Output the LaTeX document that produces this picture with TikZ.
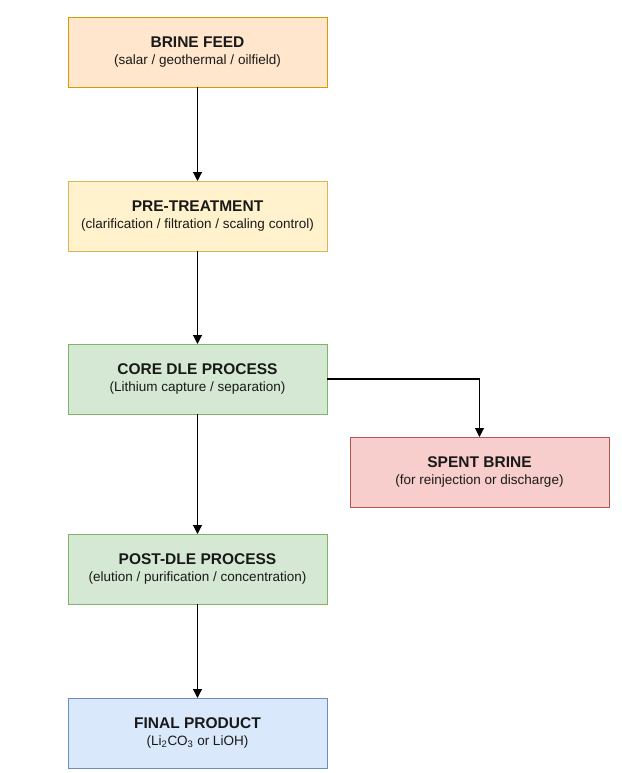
\documentclass[tikz,border=0pt]{standalone}
\usepackage{fontspec}
\setmainfont{Liberation Sans}
\usetikzlibrary{arrows.meta,positioning}

\definecolor{orangefill}{HTML}{FFE6CC}
\definecolor{orangeline}{HTML}{D79B00}
\definecolor{yellowfill}{HTML}{FFF2CC}
\definecolor{yellowline}{HTML}{D6B656}
\definecolor{greenfill}{HTML}{D5E8D4}
\definecolor{greenline}{HTML}{82B366}
\definecolor{redfill}{HTML}{F8CECC}
\definecolor{redline}{HTML}{B85450}
\definecolor{bluefill}{HTML}{DAE8FC}
\definecolor{blueline}{HTML}{6C8EBF}

\newcommand{\stagetext}[2]{{\fontsize{15.5}{18}\selectfont\bfseries #1}\\[5pt]{\fontsize{13.5}{16}\selectfont #2}}

\begin{document}
\begin{tikzpicture}
    [stage/.style={rectangle,draw,line width=0.9pt,minimum width=259pt,minimum height=70pt,
    inner sep=0pt,outer sep=0pt,align=center,text=black!90},
    flow/.style={-{Triangle[length=9pt,width=9pt]},line width=1.1pt,black},
    node distance=93pt]
    \useasboundingbox (0,0) rectangle (621pt,-773pt);
    \node[stage,fill=orangefill,draw=orangeline] (brine) at (197.5pt,-52pt)
        {\stagetext{BRINE FEED}{(salar / geothermal / oilfield)}};
    \node[stage,fill=yellowfill,draw=yellowline] (pretreat) [below=94pt of brine]
        {\stagetext{PRE-TREATMENT}{(clarification / filtration / scaling control)}};
    \node[stage,fill=greenfill,draw=greenline] (core) [below=of pretreat]
        {\stagetext{CORE DLE PROCESS}{(Lithium capture / separation)}};
    \node[stage,fill=redfill,draw=redline] (spent) [below right=23pt and 23pt of core]
        {\stagetext{SPENT BRINE}{(for reinjection or discharge)}};
    \node[stage,fill=greenfill,draw=greenline] (post) [below=120pt of core]
        {\stagetext{POST-DLE PROCESS}{(elution / purification / concentration)}};
    \node[stage,fill=bluefill,draw=blueline] (final) [below=94pt of post]
        {\stagetext{FINAL PRODUCT}{(Li\textsubscript{2}CO\textsubscript{3} or LiOH)}};
    \draw[flow] (brine) -- (pretreat);
    \draw[flow] (pretreat) -- (core);
    \draw[flow] (core) -- (post);
    \draw[flow] (post) -- (final);
    \draw[flow] (core.east) -| (spent.north);
\end{tikzpicture}
\end{document}
